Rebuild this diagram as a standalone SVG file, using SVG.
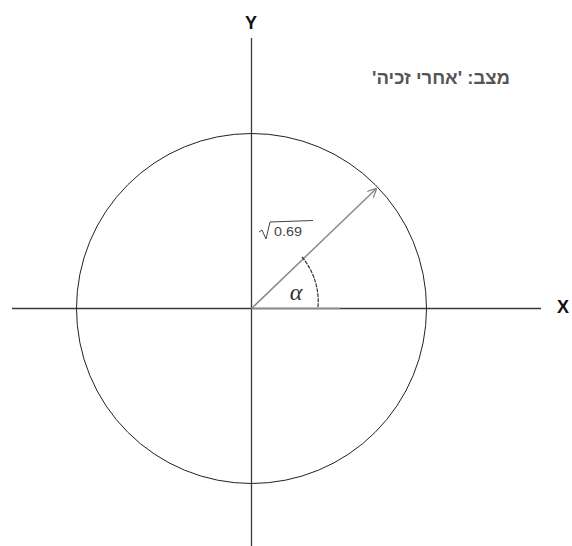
<svg xmlns="http://www.w3.org/2000/svg" width="572" height="546" viewBox="0 0 572 546">
<defs>
<style>
.axis{stroke:#3a3a3a;stroke-width:1.3;fill:none}
.gray{stroke:#8a8a8a;stroke-width:1.5;fill:none}
.lbl{font-family:"Liberation Sans",Arial,sans-serif;font-weight:bold;font-size:18px;fill:#111}
</style>
<marker id="ah" viewBox="0 0 10 10" refX="9" refY="5" markerWidth="9" markerHeight="9" orient="auto" markerUnits="userSpaceOnUse">
<path d="M0,0 L10,5 L0,10" fill="none" stroke="#8a8a8a" stroke-width="1.5"/>
</marker>
</defs>
<rect width="572" height="546" fill="#fff"/>
<g id="connectors">
<line class="axis" x1="12" y1="308.5" x2="541" y2="308.5"/>
<line class="axis" x1="251.5" y1="38" x2="251.5" y2="546"/>
<line class="gray" x1="251.5" y1="308.5" x2="340" y2="308.5"/>
<line class="gray" x1="251.5" y1="308.5" x2="376" y2="189" marker-end="url(#ah)"/>
<path d="M302,257 A69,69 0 0 1 318,307" fill="none" stroke="#333" stroke-width="1.2" stroke-dasharray="4,1"/>
</g>
<g id="circle">
<circle cx="251.5" cy="308.5" r="175" fill="none" stroke="#222" stroke-width="1"/>
</g>
<g id="y-label"><text class="lbl" x="251" y="29" text-anchor="middle">Y</text></g>
<g id="x-label"><text class="lbl" x="563" y="313" text-anchor="middle">X</text></g>
<g id="state"><text x="441" y="84" text-anchor="middle" direction="rtl" font-family="Liberation Sans, Noto Sans, sans-serif" font-size="18.5" font-weight="bold" fill="#555">מצב: 'אחרי זכיה'</text></g>
<g id="radius-label">
<path d="M259,232 L262,230 L266,239 L270,222 L313,220.5" fill="none" stroke="#444" stroke-width="1"/>
<text x="274" y="236" font-family="Liberation Sans, Arial, sans-serif" font-size="12" textLength="28" lengthAdjust="spacingAndGlyphs" fill="#444">0.69</text>
</g>
<g id="alpha"><text x="296" y="300" text-anchor="middle" font-family="Liberation Serif, serif" font-style="italic" font-size="24" fill="#333">α</text></g>
</svg>
